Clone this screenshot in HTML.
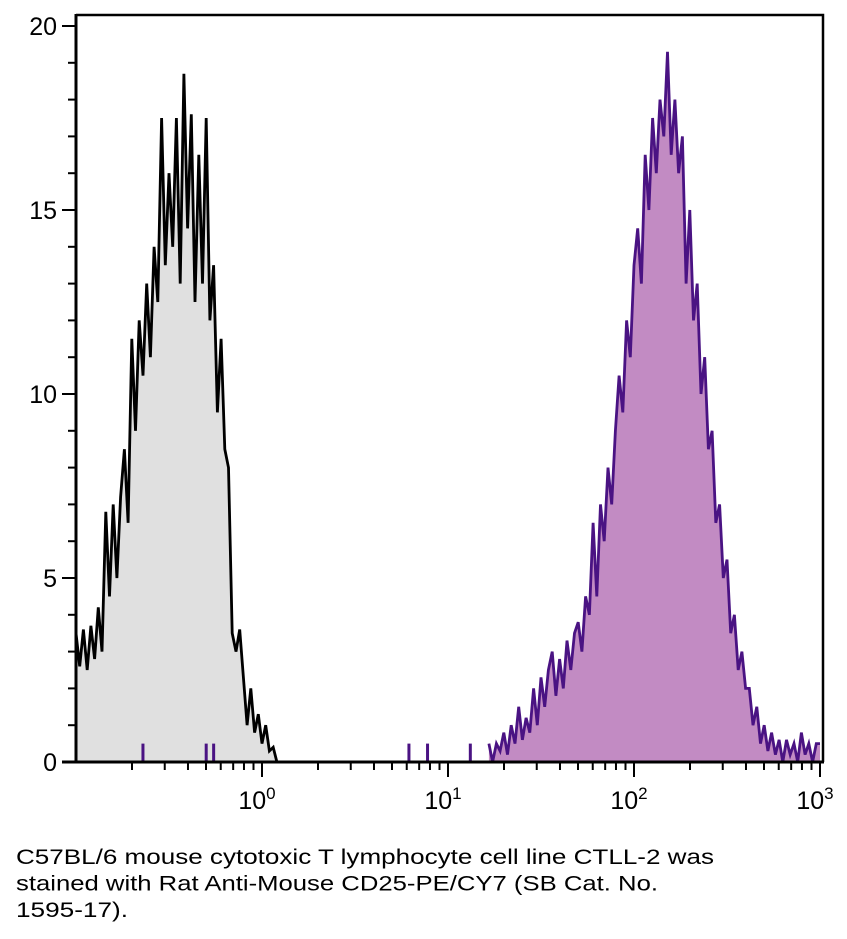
<!DOCTYPE html>
<html><head><meta charset="utf-8"><style>
body{margin:0;background:#fff;width:847px;height:939px;overflow:hidden;font-family:"Liberation Sans",sans-serif}
</style></head><body>
<svg id="chart" width="847" height="939" style="position:absolute;left:0;top:0"></svg>
<script>
const binStart=-1.0, binStep=0.02;
const greyCounts=[3.5,2.6,3.6,2.5,3.7,2.8,4.2,3.0,6.8,4.5,7.0,5.0,7.2,8.5,6.5,11.5,9.0,12.0,10.5,13.0,11.0,14.0,12.5,17.5,13.5,16.0,14.0,17.5,13.0,18.7,14.5,17.6,12.5,16.5,13.0,17.5,12.0,13.5,9.5,11.5,8.5,8.0,3.5,3.0,3.6,2.3,1.0,2.0,0.8,1.3,0.5,1.0,0.3,0.4,0];
const purpleSparkLog=[-0.64,-0.3,-0.26,0.79,0.89,1.12];
const purpleSparkVal=[0.5,0.5,0.5,0.5,0.5,0.5];
const purpleStartLog=1.22;
const purpleCounts=[0.5,0,0.5,0.3,0.8,0.2,1.0,0.5,1.5,0.6,1.2,0.8,2.0,1.0,2.3,1.5,2.5,3.0,1.8,2.8,2.0,3.3,2.5,3.5,3.8,3.0,4.5,4.0,6.5,4.5,7.0,6.0,8.0,7.0,9.0,10.5,9.5,12.0,11.0,13.5,14.5,13.0,16.5,15.0,17.5,16.0,18.0,17.0,19.3,16.5,18.0,16.0,17.0,13.0,15.0,12.0,13.0,10.0,11.0,8.5,9.0,6.5,7.0,5.0,5.5,3.5,4.0,2.5,3.0,2.0,2.0,1.0,1.5,0.5,1.0,0.3,0.8,0.2,0.6,0,0.6,0.2,0.5,0,0.8,0.2,0.5,0,0.5,0.5];
const yTicks=[0,5,10,15,20];
const xDecades=[0,1,2,3];
const captionLines=["C57BL/6 mouse cytotoxic T lymphocyte cell line CTLL-2 was","stained with Rat Anti-Mouse CD25-PE/CY7 (SB Cat. No.","1595-17)."];
const captionWidths=[698,642,112];

const NS="http://www.w3.org/2000/svg";
const svg=document.getElementById('chart');
const L=76,R=823,T=15,B=762;
const xs=l=>262+186*l;
const ys=v=>B-v*36.8;
function el(t,a,p){const e=document.createElementNS(NS,t);for(const k in a)e.setAttribute(k,a[k]);(p||svg).appendChild(e);return e;}
function area(pts,fill,stroke,name){
  let d='M'+xs(pts[0][0])+','+B;
  pts.forEach(p=>{d+=' L'+xs(p[0]).toFixed(1)+','+ys(p[1]).toFixed(1);});
  d+=' L'+xs(pts[pts.length-1][0])+','+B+' Z';
  const f=el('path',{d:d,fill:fill,stroke:'none'});
  
  
  let d2='';pts.forEach((p,i)=>{d2+=(i?' L':'M')+xs(p[0]).toFixed(1)+','+ys(p[1]).toFixed(1);});
  const s=el('path',{d:d2,fill:'none',stroke:stroke,'stroke-width':2.8,'stroke-linejoin':'miter'});
  
  
}
const gp=greyCounts.map((v,i)=>[binStart+i*binStep,v]);
gp.unshift([binStart,greyCounts[0]]);
area(gp,'#e0e0e0','#000','isotype-control-histogram');
const pp=purpleCounts.map((v,i)=>[purpleStartLog+i*binStep,v]);
area(pp,'#c28bc3','#4a1383','cd25-stained-histogram');
purpleSparkLog.forEach((l,i)=>{
  const s=el('line',{x1:xs(l),x2:xs(l),y1:B,y2:ys(purpleSparkVal[i]),stroke:'#4a1383','stroke-width':3});
  
  
});
const fr=el('path',{d:`M${L},${T} H${R} V${B}`,fill:'none',stroke:'#000','stroke-width':2.5});


const ya=el('line',{x1:L,x2:L,y1:T-1,y2:B+1,stroke:'#000','stroke-width':3});


const xa=el('line',{x1:L-14,x2:R+1,y1:B,y2:B,stroke:'#000','stroke-width':3});


for(let v=0;v<=20;v++){
  const major=v%5===0;
  const t=el('line',{x1:L-(major?14:8),x2:L,y1:ys(v),y2:ys(v),stroke:'#000','stroke-width':2});
  
  
}
yTicks.forEach(v=>{
  const t=el('text',{x:L-19,y:ys(v)+9,'text-anchor':'end','font-size':25,'font-family':'Liberation Sans, sans-serif'});
  t.textContent=v;
  
  
});
for(let d=-1;d<3;d++){for(let m=1;m<=9;m++){
  const l=d+Math.log10(m); if(l<-0.99)continue;
  const t=el('line',{x1:xs(l),x2:xs(l),y1:B,y2:B+8,stroke:'#000','stroke-width':2});
  
  
}}
xDecades.forEach(d=>{
  const t=el('line',{x1:xs(d),x2:xs(d),y1:B,y2:B+15,stroke:'#000','stroke-width':2});
  
  
  const tx=el('text',{x:xs(d)-5,y:B+47,'text-anchor':'middle','font-size':25,'font-family':'Liberation Sans, sans-serif'});
  tx.textContent='10';
  const sp=el('tspan',{dy:-10,'font-size':17},tx);sp.textContent=d;
  
  
});
captionLines.forEach((s,i)=>{
  const t=el('text',{x:16,y:864+i*26.5,'font-size':21,textLength:captionWidths[i],lengthAdjust:'spacingAndGlyphs','font-family':'Liberation Sans, sans-serif'});
  t.textContent=s;
  
  
});
</script>
</body></html>
